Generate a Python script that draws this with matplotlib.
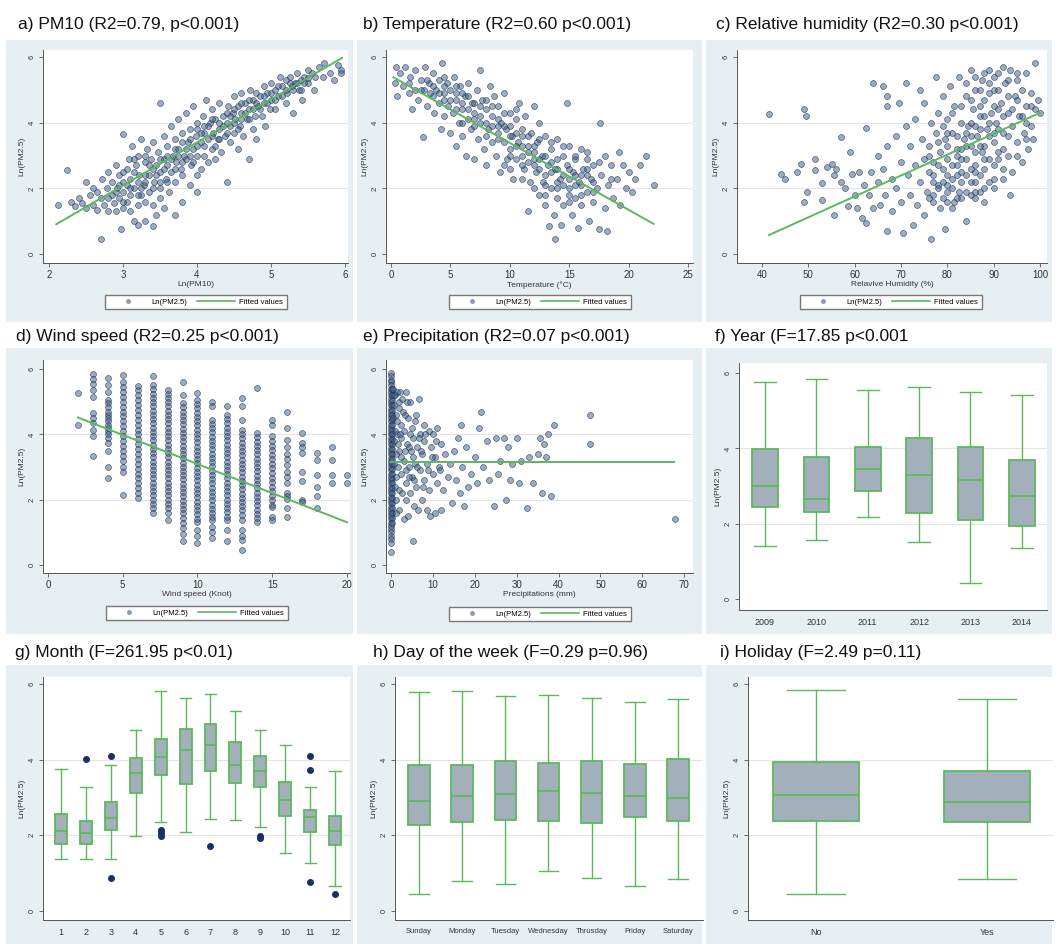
"""Determinants of Ln(PM2.5): scatter fits and box plots, 3x3 panel grid."""

import matplotlib
matplotlib.use("Agg")
import matplotlib.pyplot as plt
from matplotlib.lines import Line2D
from matplotlib.patches import Rectangle

plt.rcParams["font.family"] = ["Liberation Sans", "DejaVu Sans"]

W, H = 1058, 944
POINT_FACE = (0.24, 0.36, 0.50, 0.50)
POINT_EDGE = (0.10, 0.20, 0.36, 0.75)
GREEN = "#5cb85c"
BOX_FILL = "#a4afbc"
PANEL_BG = "#e8eff2"
AXIS_GRAY = "#555555"

# ---- a) PM10 --------------------------------------------------------------
pm10_points = [
    (2.12, 1.5), (2.25, 2.55), (2.3, 1.6), (2.35, 1.45), (2.4, 1.7), (2.45, 1.55), (2.5, 2.2), (2.5, 1.4),
    (2.55, 1.8), (2.6, 1.5), (2.6, 2.0), (2.65, 1.35), (2.65, 1.9), (2.7, 0.45), (2.7, 1.7), (2.72, 2.3),
    (2.75, 1.5), (2.78, 2.0), (2.8, 1.3), (2.8, 2.5), (2.85, 1.8), (2.85, 2.2), (2.88, 1.55), (2.9, 1.3),
    (2.9, 2.7), (2.92, 2.0), (2.95, 1.7), (2.95, 2.4), (2.98, 0.75), (3.0, 1.4), (3.0, 3.65), (3.0, 2.2),
    (3.0, 1.9), (3.05, 2.6), (3.05, 1.6), (3.08, 2.9), (3.1, 1.3), (3.1, 2.3), (3.12, 3.3), (3.15, 1.0),
    (3.15, 2.0), (3.18, 2.7), (3.2, 0.9), (3.2, 1.5), (3.2, 3.0), (3.22, 2.4), (3.25, 1.8), (3.25, 3.5),
    (3.28, 2.1), (3.3, 1.0), (3.3, 2.8), (3.3, 1.6), (3.32, 3.2), (3.35, 2.4), (3.35, 1.9), (3.38, 2.9),
    (3.4, 0.85), (3.4, 1.5), (3.4, 3.4), (3.42, 2.2), (3.45, 2.7), (3.45, 1.2), (3.48, 3.1), (3.5, 4.6),
    (3.5, 2.0), (3.5, 2.5), (3.5, 1.7), (3.55, 3.6), (3.55, 2.9), (3.55, 1.4), (3.58, 2.3), (3.6, 3.3),
    (3.6, 2.7), (3.62, 1.9), (3.65, 3.9), (3.65, 2.5), (3.68, 3.0), (3.7, 1.2), (3.7, 2.2), (3.7, 3.5),
    (3.72, 2.8), (3.75, 4.1), (3.75, 3.2), (3.78, 2.6), (3.8, 1.6), (3.8, 3.7), (3.8, 2.4), (3.82, 3.0),
    (3.85, 4.3), (3.85, 2.9), (3.88, 3.4), (3.9, 2.1), (3.9, 3.8), (3.92, 2.7), (3.95, 3.2), (3.95, 4.5),
    (3.98, 3.6), (4.0, 2.4), (4.0, 1.9), (4.0, 3.0), (4.0, 4.0), (4.05, 3.4), (4.05, 2.6), (4.08, 4.2),
    (4.1, 3.7), (4.1, 3.0), (4.12, 4.7), (4.15, 3.5), (4.15, 2.8), (4.18, 4.0), (4.2, 3.2), (4.2, 4.4),
    (4.22, 3.7), (4.25, 2.9), (4.25, 4.1), (4.28, 3.5), (4.3, 4.6), (4.3, 3.8), (4.32, 3.1), (4.35, 4.2),
    (4.38, 3.6), (4.4, 2.2), (4.4, 4.0), (4.42, 4.5), (4.45, 3.4), (4.45, 3.9), (4.48, 4.3), (4.5, 4.8),
    (4.5, 3.7), (4.52, 4.1), (4.55, 3.2), (4.55, 4.5), (4.58, 3.9), (4.6, 4.3), (4.6, 4.9), (4.62, 3.6),
    (4.65, 4.6), (4.68, 4.1), (4.7, 2.9), (4.7, 4.4), (4.72, 5.0), (4.75, 3.8), (4.75, 4.7), (4.78, 4.2),
    (4.8, 4.9), (4.8, 3.5), (4.82, 4.5), (4.85, 4.8), (4.88, 4.2), (4.9, 5.1), (4.9, 4.6), (4.92, 3.9),
    (4.95, 4.9), (4.98, 4.4), (5.0, 5.2), (5.0, 4.7), (5.05, 5.0), (5.05, 4.4), (5.1, 4.8), (5.12, 5.4),
    (5.15, 5.1), (5.2, 4.6), (5.2, 5.3), (5.22, 4.9), (5.25, 5.4), (5.28, 5.1), (5.3, 4.3), (5.32, 5.2),
    (5.35, 5.5), (5.38, 5.0), (5.4, 5.3), (5.42, 4.7), (5.45, 5.4), (5.5, 5.6), (5.5, 5.2), (5.55, 5.5),
    (5.58, 5.0), (5.6, 5.4), (5.65, 5.7), (5.7, 5.4), (5.72, 5.8), (5.8, 5.5), (5.85, 5.3), (5.9, 5.75),
    (5.95, 5.6), (5.95, 5.5),
    # denser core along the fitted line
    (3.05, 2.1), (3.1, 1.8), (3.15, 2.5), (3.2, 2.2), (3.25, 2.0), (3.3, 2.4), (3.35, 2.7), (3.4, 2.0),
    (3.45, 2.4), (3.5, 2.9), (3.55, 2.6), (3.6, 2.2), (3.65, 2.9), (3.7, 2.6), (3.75, 3.0), (3.8, 2.8),
    (3.85, 3.2), (3.9, 3.0), (3.95, 2.8), (4.0, 3.3), (4.05, 3.7), (4.1, 3.3), (4.15, 3.9), (4.2, 3.6),
    (4.25, 3.3), (4.3, 3.5), (4.35, 3.9), (4.4, 3.7), (4.45, 4.2), (4.5, 4.0), (4.55, 3.8), (4.6, 4.1),
    (4.65, 4.3), (4.7, 4.1), (4.75, 4.4), (4.8, 4.6), (4.85, 4.4), (4.9, 4.8), (4.95, 4.6), (5.0, 4.9),
    (5.05, 4.7), (5.1, 5.1), (5.15, 4.8), (5.2, 5.0), (5.25, 5.2), (5.3, 5.0), (5.35, 5.2), (5.4, 5.0),
    (5.45, 5.2), (5.5, 5.35), (2.9, 1.9), (2.8, 1.7), (2.95, 2.1), (3.0, 1.6), (3.1, 2.0), (3.2, 1.8),
    (3.3, 2.2), (3.4, 2.6), (3.5, 2.2), (3.6, 3.0), (3.7, 3.2), (3.8, 3.4), (3.9, 3.5), (4.0, 3.8),
    (4.1, 3.9), (4.2, 4.1), (4.3, 4.0), (4.4, 4.3), (4.5, 4.4), (4.6, 4.6), (4.7, 4.7), (3.0, 2.5),
    (3.15, 2.9), (3.3, 3.0),
]
pm10_fit_x = [2.1, 5.96]
pm10_fit_y = [0.91, 5.97]

# ---- b) Temperature ---------------------------------------------------------
temp_points = [
    (0.3, 5.2), (0.4, 5.7), (0.5, 4.8), (0.8, 5.5), (1.0, 5.1), (1.2, 5.7), (1.5, 4.9), (1.5, 5.2),
    (1.6, 5.4), (1.8, 4.4), (2.0, 5.0), (2.0, 5.6), (2.3, 4.7), (2.5, 5.3), (2.5, 5.0), (2.7, 3.55),
    (2.8, 5.0), (2.9, 5.7), (3.0, 4.5), (3.2, 5.2), (3.3, 4.9), (3.5, 5.5), (3.5, 5.1), (3.6, 4.3),
    (3.8, 5.0), (4.0, 4.6), (4.0, 5.3), (4.2, 3.8), (4.3, 5.8), (4.5, 4.9), (4.5, 4.2), (4.5, 4.7),
    (4.7, 5.2), (4.8, 4.5), (5.0, 3.7), (5.0, 5.0), (5.2, 4.3), (5.3, 5.4), (5.5, 4.7), (5.5, 3.3),
    (5.5, 4.4), (5.7, 4.0), (5.8, 5.1), (6.0, 4.4), (6.0, 3.6), (6.0, 4.0), (6.2, 4.8), (6.3, 3.0),
    (6.5, 4.1), (6.5, 5.2), (6.7, 3.8), (6.8, 4.6), (7.0, 2.9), (7.0, 4.3), (7.0, 3.9), (7.2, 5.0),
    (7.3, 3.5), (7.5, 4.0), (7.5, 5.6), (7.7, 4.7), (7.8, 3.2), (8.0, 4.4), (8.0, 2.7), (8.0, 3.6),
    (8.2, 3.8), (8.3, 5.1), (8.5, 4.2), (8.5, 3.4), (8.7, 4.8), (8.8, 3.0), (9.0, 3.7), (9.0, 4.5),
    (9.0, 4.1), (9.2, 2.5), (9.3, 4.0), (9.5, 3.4), (9.5, 4.9), (9.5, 2.7), (9.7, 3.8), (9.8, 2.9),
    (10.0, 4.3), (10.0, 3.2), (10.0, 3.9), (10.2, 3.6), (10.3, 2.3), (10.5, 4.1), (10.5, 2.9), (10.5, 3.7),
    (10.7, 3.4), (10.8, 4.6), (11.0, 3.0), (11.0, 3.8), (11.0, 3.3), (11.2, 2.6), (11.3, 4.2), (11.5, 1.3),
    (11.5, 3.3), (11.5, 2.8), (11.7, 2.2), (11.8, 3.7), (12.0, 2.9), (12.0, 4.5), (12.0, 3.1), (12.2, 2.5),
    (12.3, 3.4), (12.5, 1.8), (12.5, 4.0), (12.5, 2.6), (12.7, 3.0), (12.8, 2.2), (13.0, 3.6), (13.0, 1.5),
    (13.0, 2.4), (13.2, 2.7), (13.3, 0.85), (13.5, 3.2), (13.5, 2.0), (13.5, 2.8), (13.7, 1.2), (13.8, 0.45),
    (13.8, 2.6), (14.0, 3.5), (14.0, 1.7), (14.0, 2.9), (14.2, 2.3), (14.3, 0.9), (14.5, 3.0), (14.5, 1.5),
    (14.5, 2.4), (14.8, 4.6), (14.8, 2.7), (15.0, 2.0), (15.0, 3.3), (15.0, 2.6), (15.2, 1.2), (15.3, 2.5),
    (15.5, 1.7), (15.5, 2.9), (15.5, 2.1), (15.7, 0.8), (15.8, 2.2), (16.0, 3.2), (16.0, 1.5), (16.2, 2.6),
    (16.5, 1.9), (16.5, 2.9), (16.5, 2.4), (16.7, 1.0), (16.8, 2.3), (17.0, 1.6), (17.0, 2.7), (17.3, 2.0),
    (17.5, 0.75), (17.6, 4.0), (17.7, 2.4), (18.0, 1.4), (18.0, 3.0), (18.2, 0.7), (18.3, 2.1), (18.5, 2.7),
    (18.7, 1.7), (19.0, 2.3), (19.2, 3.1), (19.3, 1.5), (19.5, 2.7), (19.8, 2.0), (20.0, 2.5), (20.3, 1.9),
    (20.5, 2.3), (21.0, 2.7), (21.5, 3.0), (22.1, 2.1),
    # denser core
    (4.0, 4.9), (4.5, 5.1), (5.0, 4.7), (5.5, 4.9), (6.0, 4.6), (6.5, 4.4), (7.0, 4.6), (7.5, 4.2),
    (8.0, 4.0), (8.5, 3.9), (9.0, 3.5), (9.5, 3.9), (10.0, 3.6), (10.5, 3.3), (11.0, 3.6), (11.5, 3.1),
    (12.0, 3.3), (12.5, 2.9), (13.0, 3.0), (13.5, 2.5), (14.0, 2.6), (14.5, 2.1), (15.0, 2.3), (15.5, 2.4),
    (16.0, 2.1), (16.5, 2.6), (17.0, 2.2), (6.0, 4.9), (7.0, 4.1), (8.0, 4.7), (9.0, 3.9), (10.0, 3.0),
    (11.0, 2.7), (12.0, 2.7), (13.0, 2.1), (14.0, 2.2), (15.0, 1.8), (16.0, 2.4), (3.0, 5.3), (3.5, 4.8),
    (4.5, 5.4), (5.5, 5.1), (6.5, 4.8), (7.5, 4.5), (8.5, 4.5), (9.5, 4.3), (10.5, 4.4), (11.5, 3.6),
    (12.5, 3.5), (13.5, 3.4), (14.5, 3.3), (15.5, 3.0), (16.5, 3.1), (17.5, 2.8), (18.5, 2.3), (12.0, 2.0),
    (13.0, 1.8), (14.0, 2.0), (15.0, 1.6), (16.0, 1.8), (17.0, 1.9), (11.0, 2.3), (10.0, 2.6),
]
temp_fit_x = [0.2, 22.1]
temp_fit_y = [5.38, 0.92]

# ---- c) Relative humidity ---------------------------------------------------
rh_points = [
    (41.5, 4.25), (44, 2.45), (45, 2.3), (47.5, 2.5), (48.5, 2.75), (49, 4.4), (49.5, 4.2), (49.8, 1.9),
    (49, 1.6), (51.5, 2.9), (51.5, 2.55), (53, 2.15), (53, 1.65), (54, 2.65), (55, 2.75), (55.5, 2.4),
    (55.5, 1.2), (56, 2.6), (57, 3.55), (57, 2.2), (58, 2.0), (58.5, 1.45), (59, 3.1), (59.5, 2.45),
    (60, 1.8), (60.5, 1.4), (61, 2.5), (61.5, 1.1), (62, 2.1), (62.5, 3.85), (62.5, 0.95), (63, 1.8),
    (63.5, 2.5), (64, 1.4), (64, 5.2), (65, 2.2), (65, 3.0), (65.5, 1.5), (66, 2.6), (66, 5.1),
    (66.5, 1.8), (67, 4.8), (67, 4.5), (67, 3.3), (67, 0.7), (68, 2.3), (68, 1.3), (69, 3.6),
    (69, 2.0), (69.5, 4.6), (70, 1.6), (70, 2.8), (70.5, 0.65), (71, 3.9), (71, 5.2), (71.5, 2.4),
    (72, 1.8), (72, 3.3), (72.5, 0.9), (73, 2.7), (73, 4.1), (73.5, 1.5), (74, 5.0), (74, 2.2),
    (74.5, 3.5), (75, 1.2), (75, 2.9), (75, 4.6), (75.5, 1.9), (76, 3.3), (76, 2.5), (76.5, 0.45),
    (76.5, 4.0), (77, 1.6), (77, 2.8), (77, 1.8), (77.5, 3.7), (77.5, 5.4), (78, 2.1), (78, 4.3),
    (78, 2.0), (78.5, 1.4), (78.5, 3.1), (79, 2.6), (79, 4.8), (79, 1.7), (79.5, 0.75), (79.5, 3.5),
    (80, 1.9), (80, 2.9), (80, 4.1), (80, 2.4), (80, 3.3), (80.5, 5.1), (81, 2.3), (81, 3.7),
    (81, 2.0), (81.5, 1.6), (81.5, 4.5), (82, 2.7), (82, 3.2), (82, 1.7), (82, 3.0), (82.5, 5.4),
    (82.5, 1.9), (83, 4.0), (83, 2.5), (83, 2.2), (83, 4.5), (83.5, 3.5), (84, 1.0), (84, 4.8),
    (84, 2.9), (84, 2.4), (84, 3.3), (84.5, 3.9), (85, 2.2), (85, 5.6), (85, 3.3), (85, 1.8),
    (85, 4.0), (85.5, 4.4), (86, 1.7), (86, 2.7), (86, 5.0), (86, 2.2), (86, 3.1), (86.5, 3.6),
    (87, 4.2), (87, 2.4), (87, 1.9), (87, 4.5), (87.5, 5.3), (87.5, 3.1), (88, 4.7), (88, 2.0),
    (88, 2.6), (88, 3.3), (88.5, 3.8), (89, 5.6), (89, 2.9), (89, 2.2), (89, 4.9), (89.5, 4.3),
    (90, 3.4), (90, 5.0), (90, 2.3), (90, 3.7), (90.5, 4.0), (91, 5.5), (91, 3.1), (91, 4.4),
    (91.5, 4.6), (92, 2.6), (92, 3.7), (92, 3.2), (92.5, 5.2), (93, 4.3), (93, 3.0), (93.5, 1.8),
    (93.5, 5.6), (94, 3.9), (94, 2.5), (94.5, 4.8), (95, 3.4), (95, 5.3), (95.5, 4.2), (96, 2.8),
    (96, 5.0), (96.5, 3.7), (97, 4.5), (97, 5.5), (97.5, 3.2), (98, 4.9), (98, 3.9), (98.5, 3.5),
    (99, 5.8), (99, 4.4), (99.5, 4.7), (100, 4.3),
    # denser core
    (76, 3.0), (77, 2.4), (78, 3.4), (79, 2.2), (80, 3.7), (81, 2.7), (82, 3.6), (83, 2.9),
    (84, 3.7), (85, 2.6), (86, 3.9), (87, 3.3), (88, 4.2), (89, 3.6), (90, 4.5), (91, 3.8),
    (92, 4.2), (93, 4.8), (94, 4.4), (95, 4.7), (96, 4.2), (97, 4.0), (98, 4.5), (85, 4.7),
    (87, 5.0), (89, 5.2), (91, 5.0), (93, 5.3), (95, 5.5), (84, 5.2), (86, 5.4), (88, 5.5),
    (90, 5.4), (92, 5.7), (80, 1.6), (82, 2.4), (84, 1.9), (86, 2.5), (88, 2.9), (90, 2.7),
    (92, 2.3), (78, 2.7), (80, 2.1), (83, 3.2), (81, 4.3), (79, 3.9), (85, 3.6), (87, 3.8),
    (89, 4.0), (91, 2.9), (93, 3.6), (95, 3.0), (97, 3.5), (76, 1.7), (77, 2.2), (81, 1.4),
    (83, 1.7), (86, 1.9), (88, 1.6), (90, 2.0),
]
rh_fit_x = [41.5, 100]
rh_fit_y = [0.58, 4.3]

# ---- d) Wind speed: one list of Ln(PM2.5) values per wind speed (knots) -----
wind_columns = {
    2: [5.27, 4.3],
    3: [5.85, 5.7, 5.55, 5.35, 5.15, 4.65, 4.5, 4.35, 4.15, 3.95, 3.35],
    4: [5.73, 5.5, 5.3, 5.05, 4.95, 4.85, 4.7, 4.6, 4.5, 4.4, 4.3, 4.2, 4.1, 4.0, 3.9, 3.75, 3.5, 3.0, 2.65],
    5: [5.83, 5.6, 5.45, 5.3, 5.15, 5.0, 4.85, 4.7, 4.55, 4.4, 4.25, 4.1, 3.95, 3.8, 3.65, 3.5, 3.35,
        3.2, 3.0, 2.85, 2.15],
    6: [5.47, 5.35, 5.2, 5.05, 4.9, 4.75, 4.6, 4.45, 4.3, 4.15, 4.0, 3.85, 3.7, 3.55, 3.4, 3.25, 3.1,
        2.95, 2.8, 2.65, 2.5, 2.35, 2.2, 2.05],
    7: [5.78, 5.5, 5.38, 5.25, 5.12, 4.99, 4.86, 4.73, 4.6, 4.47, 4.34, 4.21, 4.08, 3.95, 3.82, 3.69,
        3.56, 3.43, 3.3, 3.17, 3.04, 2.91, 2.78, 2.65, 2.52, 2.39, 2.26, 2.13, 2.0, 1.87, 1.75, 1.58],
    8: [5.37, 5.25, 5.12, 4.99, 4.86, 4.73, 4.6, 4.47, 4.34, 4.21, 4.08, 3.95, 3.82, 3.69, 3.56, 3.43,
        3.3, 3.17, 3.04, 2.91, 2.78, 2.65, 2.52, 2.39, 2.26, 2.13, 2.0, 1.87, 1.74, 1.6, 1.38],
    9: [5.62, 5.2, 4.96, 4.83, 4.7, 4.57, 4.44, 4.31, 4.18, 4.05, 3.92, 3.79, 3.66, 3.53, 3.4, 3.27,
        3.14, 3.01, 2.88, 2.75, 2.62, 2.49, 2.36, 2.23, 2.1, 1.97, 1.84, 1.71, 1.58, 1.45, 1.28, 1.12,
        0.95, 0.72],
    10: [5.27, 5.06, 4.93, 4.8, 4.67, 4.54, 4.41, 4.28, 4.15, 4.02, 3.89, 3.76, 3.63, 3.5, 3.37, 3.24,
         3.11, 2.98, 2.85, 2.72, 2.59, 2.46, 2.33, 2.2, 2.07, 1.94, 1.81, 1.68, 1.55, 1.42, 1.33, 1.07,
         0.9, 0.66],
    11: [5.0, 4.86, 4.45, 4.32, 4.19, 4.06, 3.93, 3.8, 3.67, 3.54, 3.41, 3.28, 3.15, 3.02, 2.89, 2.76,
         2.63, 2.5, 2.37, 2.24, 2.11, 1.98, 1.85, 1.72, 1.59, 1.46, 1.38, 1.17, 1.0, 0.82],
    12: [4.86, 4.6, 4.47, 4.34, 4.21, 4.08, 3.95, 3.82, 3.69, 3.56, 3.43, 3.3, 3.17, 3.04, 2.91, 2.78,
         2.65, 2.52, 2.39, 2.26, 2.13, 2.0, 1.87, 1.74, 1.61, 1.48, 1.38, 1.07, 0.72],
    13: [5.11, 4.86, 4.45, 4.14, 4.01, 3.88, 3.75, 3.62, 3.49, 3.36, 3.23, 3.1, 2.97, 2.84, 2.71, 2.58,
         2.45, 2.32, 2.19, 2.06, 1.93, 1.8, 1.67, 1.54, 1.38, 1.07, 0.9, 0.77, 0.46],
    14: [5.42, 4.04, 3.91, 3.78, 3.65, 3.52, 3.39, 3.26, 3.13, 3.0, 2.87, 2.74, 2.61, 2.48, 2.35, 2.22,
         2.09, 1.96, 1.83, 1.7, 1.57, 1.44, 1.33],
    15: [4.45, 4.29, 3.94, 3.8, 3.66, 3.52, 3.38, 3.24, 3.1, 2.96, 2.82, 2.68, 2.54, 2.4, 2.26, 2.12,
         1.98, 1.84, 1.79, 1.48, 1.38],
    16: [4.7, 4.19, 3.84, 3.6, 3.4, 3.25, 3.05, 2.85, 2.7, 2.5, 2.2, 2.1, 2.02, 1.74, 1.48],
    17: [4.04, 3.73, 3.6, 3.43, 2.86, 2.56, 2.0, 1.94],
    18: [3.43, 3.22, 2.76, 2.4, 2.1, 1.74],
    19: [3.63, 3.22, 2.76, 2.5],
    20: [2.76, 2.5],
}
wind_fit_x = [2, 20]
wind_fit_y = [4.52, 1.31]

# ---- e) Precipitation -------------------------------------------------------
precip_zero_y = [5.88, 5.79, 5.68, 5.6, 5.5, 5.39, 5.3, 5.2, 5.09, 5.0, 4.9, 4.79, 4.7, 4.6, 4.49, 4.4,
                 4.3, 4.19, 4.1, 4.0, 3.89, 3.8, 3.7, 3.59, 3.5, 3.4, 3.29, 3.2, 3.1, 2.99, 2.9, 2.8,
                 2.69, 2.6, 2.5, 2.39, 2.3, 2.2, 2.09, 2.0, 1.9, 1.79, 1.7, 1.6, 1.49, 1.4, 1.3, 1.19,
                 1.1, 1.0, 0.89, 0.8, 0.66, 0.4]
precip_small_y = [5.4, 5.22, 5.05, 4.9, 4.75, 4.6, 4.44, 4.3, 4.15, 4.0, 3.85, 3.7, 3.54, 3.4, 3.25,
                  3.1, 2.95, 2.8, 2.64, 2.5, 2.35, 2.2, 2.05, 1.9, 1.75, 1.6, 1.45, 1.3]
precip_points = [
    (0.5, 5.4), (0.8, 4.9), (1.0, 5.2), (1.2, 4.6), (1.5, 5.3), (1.5, 4.0), (1.8, 4.8), (2.0, 3.5),
    (2.0, 5.0), (2.3, 4.3), (2.5, 2.8), (2.5, 3.9), (2.8, 4.7), (3.0, 3.2), (3.0, 1.4), (3.2, 4.1),
    (3.5, 5.3), (3.5, 2.5), (3.8, 3.7), (4.0, 4.5), (4.0, 1.5), (4.2, 3.0), (4.5, 2.2), (4.5, 5.0),
    (4.8, 3.5), (5.0, 4.2), (5.0, 2.7), (5.3, 0.75), (5.3, 3.9), (5.5, 1.8), (5.8, 3.1), (6.0, 4.6),
    (6.0, 2.4), (6.3, 3.6), (6.5, 1.7), (6.8, 5.1), (7.0, 4.0), (7.0, 2.9), (7.3, 2.0), (7.5, 3.4),
    (7.8, 4.3), (8.0, 2.6), (8.0, 3.8), (8.5, 1.7), (8.5, 3.1), (9.0, 4.1), (9.0, 2.3), (9.3, 1.5),
    (9.5, 3.6), (10.0, 2.8), (10.0, 4.0), (10.5, 1.6), (10.5, 3.3), (11.0, 4.2), (11.0, 2.5), (11.5, 3.0),
    (12.0, 3.7), (12.0, 1.7), (12.5, 2.3), (13.0, 3.4), (13.5, 2.7), (14.0, 3.1), (14.5, 1.9), (15.0, 3.5),
    (15.5, 2.6), (16.0, 3.9), (16.5, 2.2), (16.8, 4.3), (17.0, 3.0), (17.5, 1.8), (18.0, 3.6), (18.5, 2.4),
    (19.0, 2.8), (20.0, 3.3), (20.5, 2.5), (21.0, 4.2), (21.5, 4.7), (22.0, 3.0), (23.0, 3.8), (23.5, 2.6),
    (24.5, 1.8), (25.0, 3.9), (25.5, 2.8), (26.0, 3.2), (27.0, 3.9), (27.5, 2.0), (28.0, 3.6), (28.5, 2.6),
    (29.0, 3.1), (30.0, 3.9), (30.5, 2.5), (31.0, 3.2), (32.5, 1.75), (33.0, 3.3), (34.0, 2.5), (35.0, 3.4),
    (35.5, 3.9), (36.0, 2.2), (36.5, 3.7), (37.0, 3.3), (37.5, 4.0), (38.3, 2.1), (39.0, 4.3), (47.5, 4.6),
    (47.5, 3.7), (67.8, 1.4),
    # denser core near zero rainfall
    (0.6, 4.5), (0.7, 3.8), (0.8, 3.1), (0.9, 2.4), (1.0, 4.1), (1.1, 3.4), (1.2, 2.7), (1.3, 2.0),
    (1.4, 4.4), (1.6, 3.7), (1.7, 3.0), (1.8, 2.3), (1.9, 1.7), (2.2, 4.0), (2.4, 3.3), (2.6, 2.2),
    (2.7, 5.1), (3.3, 4.6), (3.4, 3.5), (3.6, 2.9), (3.7, 2.0), (4.3, 3.6), (4.4, 2.7), (4.6, 4.0),
    (5.2, 3.3), (5.6, 2.6), (5.7, 4.4), (6.2, 3.0), (6.6, 3.9), (7.2, 3.5), (7.6, 2.4), (8.2, 4.0),
    (8.8, 2.9), (9.7, 3.3), (10.8, 3.8), (11.8, 2.9), (1.1, 1.6), (0.7, 5.2), (2.1, 5.3), (3.9, 5.0),
]
precip_fit_x = [0, 67.5]
precip_fit_y = [3.17, 3.17]

# ---- f) Year box plot ---------------------------------------------------------
year_labels = ["2009", "2010", "2011", "2012", "2013", "2014"]
year_whislo = [1.40, 1.56, 2.17, 1.51, 0.44, 1.36]
year_q1 = [2.44, 2.31, 2.86, 2.28, 2.09, 1.93]
year_med = [2.99, 2.67, 3.45, 3.29, 3.15, 2.75]
year_q3 = [3.98, 3.77, 4.03, 4.27, 4.03, 3.70]
year_whishi = [5.76, 5.85, 5.54, 5.63, 5.49, 5.42]
year_fliers = [[], [], [], [], [], []]

# ---- g) Month box plot --------------------------------------------------------
month_labels = [str(m) for m in range(1, 13)]
month_whislo = [1.38, 1.38, 1.38, 1.97, 2.34, 2.08, 2.44, 2.41, 2.22, 1.54, 1.26, 0.65]
month_q1 = [1.78, 1.78, 2.14, 3.13, 3.60, 3.35, 3.71, 3.38, 3.27, 2.52, 2.09, 1.75]
month_med = [2.12, 2.07, 2.47, 3.65, 4.07, 4.25, 4.40, 3.87, 3.70, 2.93, 2.49, 2.12]
month_q3 = [2.56, 2.39, 2.89, 4.04, 4.56, 4.82, 4.95, 4.47, 4.11, 3.40, 2.67, 2.52]
month_whishi = [3.75, 3.27, 3.87, 4.79, 5.83, 5.63, 5.75, 5.28, 4.79, 4.38, 3.27, 3.70]
month_fliers = [[], [4.02], [4.09, 0.86], [], [2.14, 2.06, 1.99], [], [1.72], [], [1.99, 1.92], [],
                [4.10, 3.72, 0.76], [0.44]]

# ---- h) Day of the week box plot ---------------------------------------------
day_labels = ["Sunday", "Monday", "Tuesday", "Wednesday", "Thrusday", "Friday", "Saturday"]
day_whislo = [0.45, 0.78, 0.72, 1.05, 0.88, 0.66, 0.85]
day_q1 = [2.27, 2.34, 2.41, 2.37, 2.32, 2.48, 2.39]
day_med = [2.92, 3.04, 3.09, 3.18, 3.12, 3.03, 3.00]
day_q3 = [3.87, 3.85, 3.97, 3.92, 3.97, 3.89, 4.02]
day_whishi = [5.79, 5.83, 5.70, 5.71, 5.63, 5.53, 5.62]

# ---- i) Holiday box plot -------------------------------------------------------
holiday_labels = ["No", "Yes"]
holiday_whislo = [0.45, 0.85]
holiday_q1 = [2.37, 2.34]
holiday_med = [3.08, 2.87]
holiday_q3 = [3.95, 3.69]
holiday_whishi = [5.84, 5.61]


def px_axes(fig, x0, y0, x1, y1):
    return fig.add_axes([x0 / W, 1 - y1 / H, (x1 - x0) / W, (y1 - y0) / H])


def panel_background(fig, x0, y0, x1, y1):
    fig.patches.append(Rectangle((x0 / W, 1 - y1 / H), (x1 - x0) / W, (y1 - y0) / H,
                                 transform=fig.transFigure, facecolor=PANEL_BG, edgecolor="none", zorder=-10))


def style_axes(ax, xlim, ylim):
    ax.set_xlim(*xlim)
    ax.set_ylim(*ylim)
    for side in ("top", "right"):
        ax.spines[side].set_visible(False)
    for side in ("left", "bottom"):
        ax.spines[side].set_color(AXIS_GRAY)
        ax.spines[side].set_linewidth(0.7)
    ax.set_yticks([0, 2, 4, 6])
    for level in (2, 4):
        ax.axhline(level, color="#e4e4e4", linewidth=0.8, zorder=0)
    ax.tick_params(length=3, width=0.6, color=AXIS_GRAY, labelsize=7, pad=2, labelcolor="#333333")
    ax.tick_params(axis="y", labelsize=5.5)
    plt.setp(ax.get_yticklabels(), rotation=90, va="center")
    ax.set_ylabel("Ln(PM2.5)", fontsize=6, labelpad=3, color="#333333")


def scatter_panel(fig, box, xs, ys, fit_x, fit_y, xlim, ylim, xticks, xlabel, legend_center):
    ax = px_axes(fig, *box)
    style_axes(ax, xlim, ylim)
    ax.scatter(xs, ys, s=18, facecolors=[POINT_FACE], edgecolors=[POINT_EDGE], linewidths=0.5, zorder=2)
    ax.plot(fit_x, fit_y, color=GREEN, linewidth=1.4, zorder=3)
    ax.set_xticks(xticks)
    ax.set_xlabel(xlabel, fontsize=6, labelpad=1, color="#333333")
    handles = [Line2D([], [], linestyle="none", marker="o", markersize=2.5, color="#8a9bb0"),
               Line2D([], [], color=GREEN, linewidth=1.2)]
    ax.legend(handles, ["Ln(PM2.5)", "Fitted values"], loc="center",
              bbox_to_anchor=(legend_center[0] / W, 1 - legend_center[1] / H),
              bbox_transform=fig.transFigure, ncol=2, fontsize=5.5, frameon=True, fancybox=False,
              edgecolor="#777777", framealpha=1, handlelength=5, columnspacing=1.2, borderpad=0.5,
              handletextpad=0.6)
    return ax


def box_panel(fig, box, labels, whislo, q1, med, q3, whishi, fliers, xlim, ylim, width, capwidth, label_size):
    ax = px_axes(fig, *box)
    style_axes(ax, xlim, ylim)
    stats = [
        {"whislo": lo, "q1": a, "med": m, "q3": b, "whishi": hi, "fliers": fl}
        for lo, a, m, b, hi, fl in zip(whislo, q1, med, q3, whishi, fliers)
    ]
    positions = list(range(1, len(labels) + 1))
    ax.bxp(stats, positions=positions, widths=width, capwidths=capwidth, patch_artist=True, showfliers=True,
           boxprops={"facecolor": BOX_FILL, "edgecolor": GREEN, "linewidth": 1.3},
           medianprops={"color": GREEN, "linewidth": 1.3},
           whiskerprops={"color": GREEN, "linewidth": 1.0},
           capprops={"color": GREEN, "linewidth": 1.0},
           flierprops={"marker": "o", "markersize": 4, "markerfacecolor": "#1a2f66",
                       "markeredgecolor": "#1a2f66"})
    ax.set_xticks(positions)
    ax.set_xticklabels(labels)
    ax.tick_params(axis="x", length=0, labelsize=label_size, pad=6)
    ax.set_xlim(*xlim)
    return ax


def main():
    fig = plt.figure(figsize=(W / 100, H / 100), dpi=100)
    fig.patch.set_facecolor("white")

    for x0, x1 in ((6, 353), (357, 702), (706, 1052)):
        panel_background(fig, x0, 40, x1, 322)
        panel_background(fig, x0, 348, x1, 634)
        panel_background(fig, x0, 665, x1, 944)

    titles = [
        (18, 24, "a) PM10 (R2=0.79, p<0.001)"),
        (363, 24, "b) Temperature (R2=0.60 p<0.001)"),
        (716, 24, "c) Relative humidity (R2=0.30 p<0.001)"),
        (16, 336, "d) Wind speed (R2=0.25 p<0.001)"),
        (363, 336, "e) Precipitation (R2=0.07 p<0.001)"),
        (715, 336, "f) Year (F=17.85 p<0.001"),
        (15, 652, "g) Month (F=261.95 p<0.01)"),
        (373, 652, "h) Day of the week (F=0.29 p=0.96)"),
        (720, 652, "i) Holiday (F=2.49 p=0.11)"),
    ]
    for x, y, text in titles:
        fig.text(x / W, 1 - y / H, text, fontsize=12.5, ha="left", va="center", color="#111111")

    row1_ylim = (-0.27, 6.21)
    scatter_panel(fig, (43, 50, 348, 263), [p[0] for p in pm10_points], [p[1] for p in pm10_points],
                  pm10_fit_x, pm10_fit_y, (1.92, 6.04), row1_ylim, [2, 3, 4, 5, 6], "Ln(PM10)", (196, 302))
    scatter_panel(fig, (386, 50, 693, 263), [p[0] for p in temp_points], [p[1] for p in temp_points],
                  temp_fit_x, temp_fit_y, (-0.42, 25.42), row1_ylim, [0, 5, 10, 15, 20, 25],
                  "Temperature (°C)", (540, 302))
    scatter_panel(fig, (737, 50, 1047, 263), [p[0] for p in rh_points], [p[1] for p in rh_points],
                  rh_fit_x, rh_fit_y, (34.6, 101.5), row1_ylim, [40, 50, 60, 70, 80, 90, 100],
                  "Relavive Humidity (%)", (891, 302))

    row2_ylim = (-0.245, 6.28)
    wind_x = [speed for speed, values in wind_columns.items() for _ in values]
    wind_y = [v for values in wind_columns.values() for v in values]
    scatter_panel(fig, (43, 360, 350, 573), wind_x, wind_y, wind_fit_x, wind_fit_y, (-0.33, 20.2), row2_ylim,
                  [0, 5, 10, 15, 20], "Wind speed (Knot)", (197, 613))
    precip_x = [0.0] * len(precip_zero_y) + [0.35] * len(precip_small_y) + [p[0] for p in precip_points]
    precip_y = precip_zero_y + precip_small_y + [p[1] for p in precip_points]
    scatter_panel(fig, (386, 360, 693, 573), precip_x, precip_y, precip_fit_x, precip_fit_y, (-1.19, 72.1),
                  row2_ylim, [0, 10, 20, 30, 40, 50, 60, 70], "Precipitations (mm)", (540, 614))

    box_panel(fig, (739, 363, 1047, 610), year_labels, year_whislo, year_q1, year_med, year_q3, year_whishi,
              year_fliers, (0.494, 6.49), (-0.29, 6.27), 0.5, 0.42, 6.5)

    row3_ylim = (-0.24, 6.19)
    box_panel(fig, (43, 677, 350, 920), month_labels, month_whislo, month_q1, month_med, month_q3,
              month_whishi, month_fliers, (0.277, 12.6), row3_ylim, 0.48, 0.45, 6.5)
    box_panel(fig, (395, 677, 703, 920), day_labels, day_whislo, day_q1, day_med, day_q3, day_whishi,
              [[] for _ in day_labels], (0.444, 7.58), row3_ylim, 0.5, 0.45, 5.5)
    box_panel(fig, (748, 677, 1053, 920), holiday_labels, holiday_whislo, holiday_q1, holiday_med, holiday_q3,
              holiday_whishi, [[], []], (0.602, 2.386), row3_ylim, 0.5, 0.34, 6.5)

    fig.savefig("out.png", dpi=100)
    plt.close(fig)


if __name__ == "__main__":
    main()
